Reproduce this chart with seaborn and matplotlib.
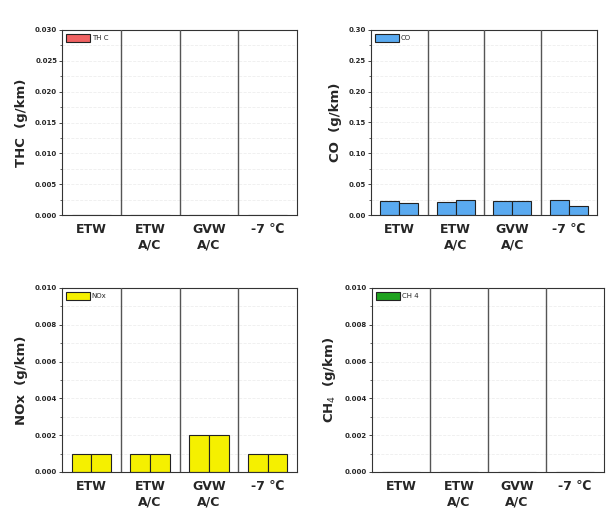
import pandas as pd
import numpy as np
import matplotlib.pyplot as plt
import seaborn as sns
from matplotlib.patches import Patch
from matplotlib.ticker import MultipleLocator

# Data (two tests per condition)
conditions = ['ETW', 'ETW\nA/C', 'GVW\nA/C', '-7 ℃']
thc_1 = [0.0, 0.0, 0.0, 0.0]
thc_2 = [0.0, 0.0, 0.0, 0.0]
co_1 = [0.023, 0.021, 0.023, 0.025]
co_2 = [0.019, 0.025, 0.022, 0.015]
nox_1 = [0.001, 0.001, 0.002, 0.001]
nox_2 = [0.001, 0.001, 0.002, 0.001]
ch4_1 = [0.0, 0.0, 0.0, 0.0]
ch4_2 = [0.0, 0.0, 0.0, 0.0]

panels = [
    ('TH C', 'THC  (g/km)', thc_1, thc_2, '#f06262', 0.030, 0.005, '{:.3f}'),
    ('CO', 'CO  (g/km)', co_1, co_2, '#5aaaf0', 0.30, 0.05, '{:.2f}'),
    ('NOx', 'NOx  (g/km)', nox_1, nox_2, '#f5f000', 0.010, 0.002, '{:.3f}'),
    ('CH 4', 'CH$_4$  (g/km)', ch4_1, ch4_2, '#1ea21e', 0.010, 0.002, '{:.3f}'),
]

sns.set_style('white')
plt.rcParams['font.family'] = ['DejaVu Sans']

fig = plt.figure(figsize=(6.07, 5.19), dpi=100)
boxes = [
    [62 / 607, 1 - 215 / 519, 235 / 607, 185 / 519],
    [371 / 607, 1 - 215 / 519, 226 / 607, 185 / 519],
    [62 / 607, 1 - 472 / 519, 235 / 607, 184 / 519],
    [372 / 607, 1 - 472 / 519, 232 / 607, 184 / 519],
]

for box, (name, ylabel, v1, v2, color, ymax, step, fmt) in zip(boxes, panels):
    ax = fig.add_axes(box)
    df = pd.DataFrame({
        'condition': conditions * 2,
        'run': ['1'] * 4 + ['2'] * 4,
        'value': v1 + v2,
    })
    sns.barplot(data=df, x='condition', y='value', hue='run',
                palette=[color, color], saturation=1, width=0.67,
                edgecolor='#222222', linewidth=0.8, errorbar=None,
                legend=False, ax=ax)
    ax.set_ylim(0, ymax)
    ax.set_xlim(-0.5, 3.5)
    for x in [0.5, 1.5, 2.5]:
        ax.axvline(x, color='#555555', lw=1.0, zorder=3)
    ticks = np.arange(0, ymax + step / 2, step)
    ax.yaxis.set_minor_locator(MultipleLocator(step / 2))
    ax.grid(axis='y', which='both', color='#eeeeee', lw=0.6, ls='--')
    ax.set_axisbelow(True)
    ax.set_yticks(ticks)
    ax.set_yticklabels([fmt.format(t) for t in ticks], fontsize=5, fontweight='bold')
    ax.tick_params(axis='y', which='major', direction='out', length=2.5, width=0.6, left=True, pad=1)
    ax.tick_params(axis='y', which='minor', direction='out', length=1.5, width=0.5, left=True)
    ax.tick_params(axis='x', length=0, pad=6)
    for lab in ax.get_xticklabels():
        lab.set_fontsize(9)
        lab.set_fontweight('bold')
    ax.set_xlabel('')
    ax.set_ylabel(ylabel, fontsize=9.5, fontweight='bold', labelpad=5)
    for s in ax.spines.values():
        s.set_color('#333333')
        s.set_linewidth(0.8)
    handle = Patch(facecolor=color, edgecolor='#222222', linewidth=0.8)
    ax.legend([handle], [name], loc='upper left', frameon=False, fontsize=5,
              handlelength=3.4, handleheight=1.3, borderaxespad=0.2,
              handletextpad=0.3)

fig.savefig('out.png', dpi=100)
